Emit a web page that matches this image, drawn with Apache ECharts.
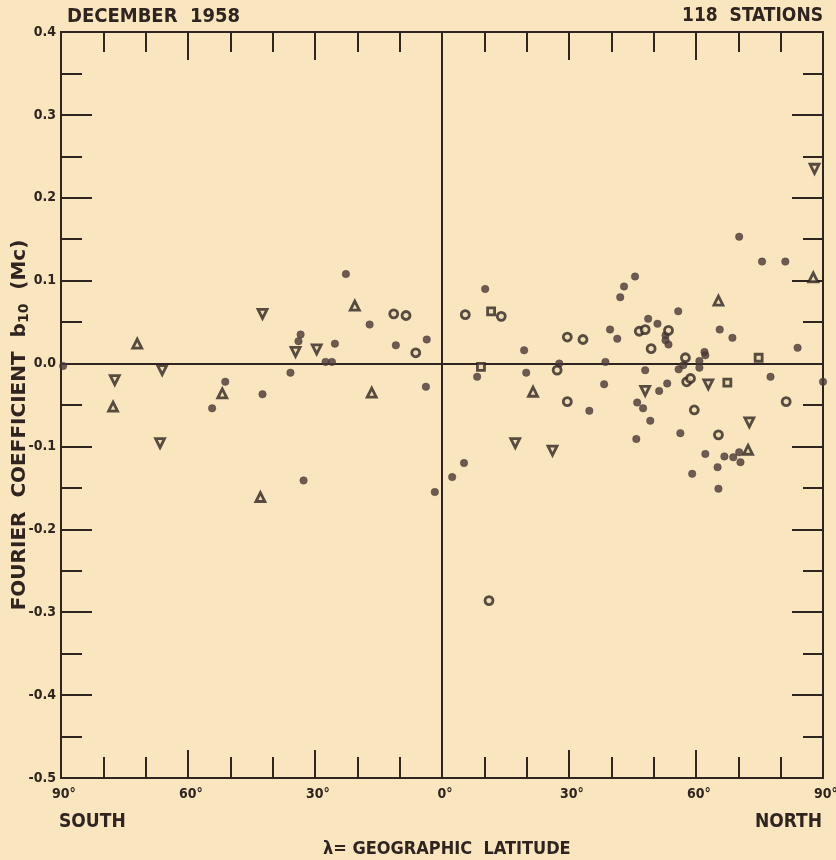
<!DOCTYPE html>
<html>
<head>
<meta charset="utf-8">
<script src="https://cdn.jsdelivr.net/npm/echarts@6/dist/echarts.min.js"></script>
<style>
  html, body { margin: 0; padding: 0; background: #F9E6BF; }
  #chart { width: 836px; height: 860px; }
</style>
</head>
<body>
<div id="chart"></div>
<script>
// Geographic latitude (negative = south), Fourier coefficient b10 (Mc)
const filledPoints = [
  [-89.5,-0.003],[-51.2,-0.022],[-54.3,-0.054],[-22.7,0.108],[-17.1,0.047],[-33.4,0.035],
  [-33.9,0.027],[-25.3,0.024],[-10.9,0.022],[-3.6,0.029],[-27.5,0.002],[-26.0,0.002],
  [-35.8,-0.011],[-42.4,-0.037],[-3.8,-0.028],[-32.7,-0.141],[-1.7,-0.155],
  [5.2,-0.120],[2.4,-0.137],[10.2,0.090],[19.4,0.016],[8.3,-0.016],[19.9,-0.011],
  [27.7,0.000],[34.8,-0.057],[45.6,0.105],[43.0,0.093],[42.1,0.080],[55.8,0.063],
  [48.7,0.054],[50.9,0.048],[39.7,0.041],[41.4,0.030],[52.8,0.034],[52.8,0.028],
  [53.5,0.023],[65.6,0.041],[68.6,0.031],[38.6,0.002],[62.0,0.014],[62.2,0.010],
  [60.8,0.003],[60.8,-0.005],[57.0,-0.002],[55.9,-0.007],[48.0,-0.008],[38.3,-0.025],
  [51.3,-0.033],[53.2,-0.024],[46.1,-0.047],[47.5,-0.054],[49.2,-0.069],[56.3,-0.084],
  [45.9,-0.091],[62.2,-0.109],[65.1,-0.125],[59.1,-0.133],[65.3,-0.151],[70.2,0.153],
  [75.6,0.123],[81.1,0.123],[84.0,0.019],[77.6,-0.016],[70.2,-0.107],[68.8,-0.113],
  [66.7,-0.112],[70.5,-0.119],[90.0,-0.022]
];
const triUpPoints = [
  [-72.0,0.024],[-51.9,-0.036],[-77.7,-0.052],[-20.6,0.070],[-16.6,-0.035],[-42.9,-0.161],
  [21.5,-0.034],[65.3,0.076],[87.7,0.104],[72.3,-0.104]
];
const triDownPoints = [
  [-66.1,-0.008],[-77.3,-0.020],[-66.6,-0.096],[-42.4,0.060],[-34.6,0.014],[-29.6,0.017],
  [17.3,-0.096],[26.1,-0.105],[62.9,-0.025],[48.0,-0.033],[88.0,0.235],[72.6,-0.071]
];
const openCirclePoints = [
  [-11.4,0.060],[-8.5,0.058],[-6.2,0.013],[11.1,-0.286],[5.5,0.059],[14.0,0.057],
  [29.6,0.032],[33.3,0.029],[27.2,-0.008],[29.6,-0.046],[46.6,0.039],[48.0,0.041],
  [53.5,0.040],[49.4,0.018],[57.5,0.007],[57.8,-0.022],[58.7,-0.018],[59.6,-0.056],
  [65.3,-0.086],[81.3,-0.046]
];
const squarePoints = [
  [11.6,0.063],[9.2,-0.004],[74.8,0.007],[67.4,-0.023]
];
const referenceLines = [{ xAxis: 0 }, { yAxis: 0 }];

const INK = '#2f2420';
const DOT = '#4a3836';
const BG = '#F9E6BF';
const FONT = '"DejaVu Sans Condensed", "DejaVu Sans", sans-serif';
const WIDE = '"DejaVu Sans", sans-serif';

function xAx(pos, interval, len, showLabel) {
  return {
    type: 'value', position: pos, min: -90, max: 90, interval: interval,
    axisLine: { show: true, onZero: false, lineStyle: { color: INK, width: 2 } },
    axisTick: { show: true, inside: true, length: len, lineStyle: { color: INK, width: 2 } },
    axisLabel: {
      show: showLabel, margin: 9, color: INK, fontFamily: FONT, fontSize: 14, fontWeight: 'bold',
      padding: [0, 0, 0, 6],
      formatter: v => Math.abs(v) + '°'
    },
    splitLine: { show: false }
  };
}
function yAx(pos, interval, len, showLabel) {
  return {
    type: 'value', position: pos, min: -0.5, max: 0.4, interval: interval,
    axisLine: { show: true, onZero: false, lineStyle: { color: INK, width: 2 } },
    axisTick: { show: true, inside: true, length: len, lineStyle: { color: INK, width: 2 } },
    axisLabel: {
      show: showLabel, margin: 5, color: INK, fontFamily: FONT, fontSize: 14, fontWeight: 'bold',
      formatter: v => (Math.abs(v) < 1e-9 ? 0 : v).toFixed(1)
    },
    splitLine: { show: false }
  };
}

function sc(data, symbol, size, rotate, open) {
  return {
    type: 'scatter', data: data, symbol: symbol, symbolSize: size, symbolRotate: rotate,
    xAxisIndex: 0, yAxisIndex: 0, clip: false, z: 5,
    itemStyle: open
      ? { color: '#efdcb4', borderColor: INK, borderWidth: 2.8 }
      : { color: DOT, borderColor: DOT, borderWidth: 0.5 }
  };
}

const chart = echarts.init(document.getElementById('chart'), null, { renderer: 'canvas' });
chart.setOption({
  backgroundColor: BG,
  animation: false,
  grid: { left: 61, right: 13, top: 32, bottom: 82, containLabel: false, outerBoundsMode: 'none' },
  xAxis: [
    xAx('bottom', 10, 21, false),
    xAx('bottom', 30, 28, true),
    xAx('top', 10, 20, false),
    xAx('top', 30, 28, false)
  ],
  yAxis: [
    yAx('left', 0.05, 21, false),
    yAx('left', 0.1, 31, true),
    yAx('right', 0.05, 20, false),
    yAx('right', 0.1, 31, false)
  ],
  series: [
    Object.assign(sc(filledPoints, 'circle', 7.5, 0, false), {
      markLine: {
        silent: true, symbol: ['none', 'none'], label: { show: false },
        lineStyle: { color: INK, width: 2, type: 'solid' },
        data: referenceLines
      }
    }),
    sc(triUpPoints, 'triangle', 9, 0, true),
    sc(triDownPoints, 'triangle', 9, 180, true),
    sc(openCirclePoints, 'circle', 8, 0, true),
    sc(squarePoints, 'rect', 7, 0, true)
  ],
  graphic: [
    { type: 'text', left: 67, top: 7, style: { text: 'DECEMBER  1958', fill: INK, font: 'bold 20px ' + FONT } },
    { type: 'text', right: 13, top: 7, style: { text: '118  STATIONS', fill: INK, font: 'bold 19px ' + FONT } },
    { type: 'text', left: 59, top: 813, style: { text: 'SOUTH', fill: INK, font: 'bold 19px ' + FONT } },
    { type: 'text', right: 14, top: 813, style: { text: 'NORTH', fill: INK, font: 'bold 19px ' + FONT } },
    { type: 'text', left: 323, top: 840, style: { text: 'λ= GEOGRAPHIC  LATITUDE', fill: INK, font: 'bold 18px ' + FONT } },
    {
      type: 'text', x: 20, y: 425, rotation: Math.PI / 2,
      style: {
        text: 'FOURIER  COEFFICIENT  b{s|10}  (Mc)',
        fill: INK, font: 'bold 20px ' + WIDE, align: 'center', verticalAlign: 'middle',
        rich: { s: { fill: INK, font: 'bold 14px ' + WIDE, verticalAlign: 'bottom', padding: [9, 0, 0, 0] } }
      }
    }
  ]
});
</script>
</body>
</html>
